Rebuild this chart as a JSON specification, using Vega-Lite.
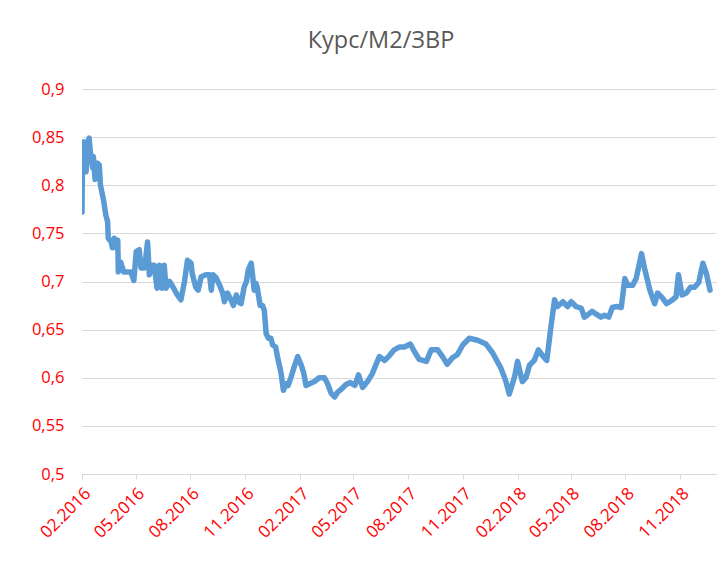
{
  "$schema": "https://vega.github.io/schema/vega-lite/v6.json",
  "width": 634,
  "height": 385,
  "autosize": {"type": "none"},
  "padding": {"left": 82, "top": 89, "right": 12, "bottom": 89},
  "background": "white",
  "config": {"view": {"stroke": null}},
  "title": {"text": "Курс/М2/ЗВР", "font": "Open Sans", "fontSize": 23.5, "fontWeight": "normal", "color": "#595959", "offset": 29, "dx": -18},
  "data": {"values": [
    {"date": "2016-02-01", "v": 0.772},
    {"date": "2016-02-02", "v": 0.845},
    {"date": "2016-02-05", "v": 0.845},
    {"date": "2016-02-08", "v": 0.814},
    {"date": "2016-02-09", "v": 0.840},
    {"date": "2016-02-13", "v": 0.849},
    {"date": "2016-02-16", "v": 0.828},
    {"date": "2016-02-19", "v": 0.818},
    {"date": "2016-02-20", "v": 0.830},
    {"date": "2016-02-23", "v": 0.806},
    {"date": "2016-02-27", "v": 0.823},
    {"date": "2016-03-01", "v": 0.821},
    {"date": "2016-03-03", "v": 0.800},
    {"date": "2016-03-08", "v": 0.785},
    {"date": "2016-03-12", "v": 0.769},
    {"date": "2016-03-15", "v": 0.762},
    {"date": "2016-03-16", "v": 0.745},
    {"date": "2016-03-21", "v": 0.741},
    {"date": "2016-03-23", "v": 0.735},
    {"date": "2016-03-26", "v": 0.745},
    {"date": "2016-03-29", "v": 0.735},
    {"date": "2016-04-01", "v": 0.743},
    {"date": "2016-04-02", "v": 0.710},
    {"date": "2016-04-06", "v": 0.720},
    {"date": "2016-04-11", "v": 0.710},
    {"date": "2016-04-18", "v": 0.710},
    {"date": "2016-04-23", "v": 0.710},
    {"date": "2016-04-28", "v": 0.701},
    {"date": "2016-05-02", "v": 0.731},
    {"date": "2016-05-07", "v": 0.733},
    {"date": "2016-05-10", "v": 0.714},
    {"date": "2016-05-16", "v": 0.714},
    {"date": "2016-05-21", "v": 0.741},
    {"date": "2016-05-24", "v": 0.707},
    {"date": "2016-05-28", "v": 0.717},
    {"date": "2016-06-01", "v": 0.717},
    {"date": "2016-06-06", "v": 0.693},
    {"date": "2016-06-10", "v": 0.717},
    {"date": "2016-06-14", "v": 0.693},
    {"date": "2016-06-18", "v": 0.717},
    {"date": "2016-06-21", "v": 0.693},
    {"date": "2016-06-27", "v": 0.700},
    {"date": "2016-07-02", "v": 0.695},
    {"date": "2016-07-10", "v": 0.686},
    {"date": "2016-07-16", "v": 0.681},
    {"date": "2016-07-22", "v": 0.700},
    {"date": "2016-07-27", "v": 0.722},
    {"date": "2016-08-02", "v": 0.719},
    {"date": "2016-08-04", "v": 0.708},
    {"date": "2016-08-10", "v": 0.694},
    {"date": "2016-08-14", "v": 0.691},
    {"date": "2016-08-19", "v": 0.705},
    {"date": "2016-08-27", "v": 0.707},
    {"date": "2016-09-02", "v": 0.707},
    {"date": "2016-09-05", "v": 0.691},
    {"date": "2016-09-08", "v": 0.707},
    {"date": "2016-09-13", "v": 0.704},
    {"date": "2016-09-19", "v": 0.696},
    {"date": "2016-09-24", "v": 0.688},
    {"date": "2016-09-27", "v": 0.679},
    {"date": "2016-10-02", "v": 0.688},
    {"date": "2016-10-08", "v": 0.681},
    {"date": "2016-10-12", "v": 0.675},
    {"date": "2016-10-17", "v": 0.686},
    {"date": "2016-10-22", "v": 0.678},
    {"date": "2016-10-25", "v": 0.677},
    {"date": "2016-10-30", "v": 0.694},
    {"date": "2016-11-03", "v": 0.700},
    {"date": "2016-11-06", "v": 0.712},
    {"date": "2016-11-11", "v": 0.719},
    {"date": "2016-11-13", "v": 0.708},
    {"date": "2016-11-16", "v": 0.691},
    {"date": "2016-11-19", "v": 0.698},
    {"date": "2016-11-21", "v": 0.694},
    {"date": "2016-11-26", "v": 0.675},
    {"date": "2016-11-30", "v": 0.675},
    {"date": "2016-12-03", "v": 0.670},
    {"date": "2016-12-06", "v": 0.646},
    {"date": "2016-12-10", "v": 0.641},
    {"date": "2016-12-14", "v": 0.641},
    {"date": "2016-12-17", "v": 0.634},
    {"date": "2016-12-22", "v": 0.632},
    {"date": "2016-12-25", "v": 0.622},
    {"date": "2016-12-31", "v": 0.605},
    {"date": "2017-01-04", "v": 0.587},
    {"date": "2017-01-09", "v": 0.594},
    {"date": "2017-01-12", "v": 0.592},
    {"date": "2017-01-17", "v": 0.601},
    {"date": "2017-01-22", "v": 0.611},
    {"date": "2017-01-28", "v": 0.622},
    {"date": "2017-02-03", "v": 0.613},
    {"date": "2017-02-07", "v": 0.605},
    {"date": "2017-02-11", "v": 0.592},
    {"date": "2017-02-18", "v": 0.594},
    {"date": "2017-02-25", "v": 0.596},
    {"date": "2017-03-05", "v": 0.600},
    {"date": "2017-03-14", "v": 0.600},
    {"date": "2017-03-19", "v": 0.594},
    {"date": "2017-03-25", "v": 0.584},
    {"date": "2017-03-31", "v": 0.580},
    {"date": "2017-04-05", "v": 0.585},
    {"date": "2017-04-11", "v": 0.588},
    {"date": "2017-04-19", "v": 0.593},
    {"date": "2017-04-26", "v": 0.595},
    {"date": "2017-05-04", "v": 0.592},
    {"date": "2017-05-10", "v": 0.603},
    {"date": "2017-05-17", "v": 0.590},
    {"date": "2017-05-25", "v": 0.596},
    {"date": "2017-06-02", "v": 0.604},
    {"date": "2017-06-14", "v": 0.622},
    {"date": "2017-06-23", "v": 0.618},
    {"date": "2017-07-01", "v": 0.623},
    {"date": "2017-07-09", "v": 0.629},
    {"date": "2017-07-18", "v": 0.632},
    {"date": "2017-07-26", "v": 0.632},
    {"date": "2017-08-05", "v": 0.635},
    {"date": "2017-08-12", "v": 0.627},
    {"date": "2017-08-20", "v": 0.619},
    {"date": "2017-09-01", "v": 0.617},
    {"date": "2017-09-09", "v": 0.629},
    {"date": "2017-09-20", "v": 0.629},
    {"date": "2017-09-28", "v": 0.622},
    {"date": "2017-10-06", "v": 0.614},
    {"date": "2017-10-15", "v": 0.621},
    {"date": "2017-10-23", "v": 0.624},
    {"date": "2017-11-01", "v": 0.634},
    {"date": "2017-11-12", "v": 0.641},
    {"date": "2017-11-26", "v": 0.639},
    {"date": "2017-12-10", "v": 0.635},
    {"date": "2017-12-21", "v": 0.626},
    {"date": "2018-01-04", "v": 0.610},
    {"date": "2018-01-12", "v": 0.597},
    {"date": "2018-01-18", "v": 0.583},
    {"date": "2018-01-27", "v": 0.601},
    {"date": "2018-02-01", "v": 0.617},
    {"date": "2018-02-09", "v": 0.596},
    {"date": "2018-02-15", "v": 0.600},
    {"date": "2018-02-21", "v": 0.613},
    {"date": "2018-03-01", "v": 0.618},
    {"date": "2018-03-08", "v": 0.629},
    {"date": "2018-03-15", "v": 0.623},
    {"date": "2018-03-22", "v": 0.618},
    {"date": "2018-03-29", "v": 0.653},
    {"date": "2018-04-04", "v": 0.681},
    {"date": "2018-04-09", "v": 0.674},
    {"date": "2018-04-18", "v": 0.679},
    {"date": "2018-04-26", "v": 0.674},
    {"date": "2018-05-02", "v": 0.679},
    {"date": "2018-05-10", "v": 0.674},
    {"date": "2018-05-19", "v": 0.672},
    {"date": "2018-05-24", "v": 0.663},
    {"date": "2018-05-29", "v": 0.665},
    {"date": "2018-06-06", "v": 0.669},
    {"date": "2018-06-13", "v": 0.666},
    {"date": "2018-06-21", "v": 0.663},
    {"date": "2018-06-27", "v": 0.665},
    {"date": "2018-07-04", "v": 0.663},
    {"date": "2018-07-10", "v": 0.673},
    {"date": "2018-07-17", "v": 0.674},
    {"date": "2018-07-25", "v": 0.673},
    {"date": "2018-07-31", "v": 0.703},
    {"date": "2018-08-05", "v": 0.696},
    {"date": "2018-08-13", "v": 0.696},
    {"date": "2018-08-19", "v": 0.703},
    {"date": "2018-08-28", "v": 0.729},
    {"date": "2018-09-02", "v": 0.714},
    {"date": "2018-09-11", "v": 0.691},
    {"date": "2018-09-19", "v": 0.677},
    {"date": "2018-09-24", "v": 0.688},
    {"date": "2018-10-02", "v": 0.683},
    {"date": "2018-10-09", "v": 0.677},
    {"date": "2018-10-17", "v": 0.680},
    {"date": "2018-10-25", "v": 0.684},
    {"date": "2018-10-29", "v": 0.707},
    {"date": "2018-11-04", "v": 0.686},
    {"date": "2018-11-11", "v": 0.688},
    {"date": "2018-11-18", "v": 0.694},
    {"date": "2018-11-25", "v": 0.694},
    {"date": "2018-12-02", "v": 0.699},
    {"date": "2018-12-09", "v": 0.719},
    {"date": "2018-12-15", "v": 0.708},
    {"date": "2018-12-21", "v": 0.691}
  ]},
  "mark": {"type": "line", "color": "#5b9bd5", "strokeWidth": 5.5, "strokeJoin": "round", "strokeCap": "round", "clip": true},
  "encoding": {
    "x": {
      "field": "date", "type": "temporal",
      "scale": {"type": "utc", "domain": [{"year": 2016, "month": 2, "date": 1, "utc": true}, {"year": 2018, "month": 12, "date": 31, "utc": true}]},
      "axis": {
        "title": null,
        "values": [
          {"year": 2016, "month": 2, "date": 1, "utc": true},
          {"year": 2016, "month": 5, "date": 1, "utc": true},
          {"year": 2016, "month": 8, "date": 1, "utc": true},
          {"year": 2016, "month": 11, "date": 1, "utc": true},
          {"year": 2017, "month": 2, "date": 1, "utc": true},
          {"year": 2017, "month": 5, "date": 1, "utc": true},
          {"year": 2017, "month": 8, "date": 1, "utc": true},
          {"year": 2017, "month": 11, "date": 1, "utc": true},
          {"year": 2018, "month": 2, "date": 1, "utc": true},
          {"year": 2018, "month": 5, "date": 1, "utc": true},
          {"year": 2018, "month": 8, "date": 1, "utc": true},
          {"year": 2018, "month": 11, "date": 1, "utc": true}
        ],
        "labelExpr": "utcFormat(datum.value, '%m.%Y')",
        "labelAngle": -45, "labelColor": "#ff0000", "labelFont": "Open Sans", "labelFontSize": 17,
        "labelPadding": 6, "labelOverlap": false, "labelFlush": false,
        "grid": false, "domainColor": "#d9d9d9", "domainWidth": 1,
        "tickColor": "#d9d9d9", "tickSize": 5
      }
    },
    "y": {
      "field": "v", "type": "quantitative",
      "scale": {"domain": [0.5, 0.9], "zero": false, "nice": false},
      "axis": {
        "title": null,
        "values": [0.5, 0.55, 0.6, 0.65, 0.7, 0.75, 0.8, 0.85, 0.9],
        "labelExpr": "replace(format(datum.value, '.2~f'), '.', ',')",
        "labelColor": "#ff0000", "labelFont": "Open Sans", "labelFontSize": 16.5,
        "labelPadding": 18, "domain": false, "ticks": false,
        "grid": true, "gridColor": "#d9d9d9", "gridWidth": 1
      }
    }
  }
}
